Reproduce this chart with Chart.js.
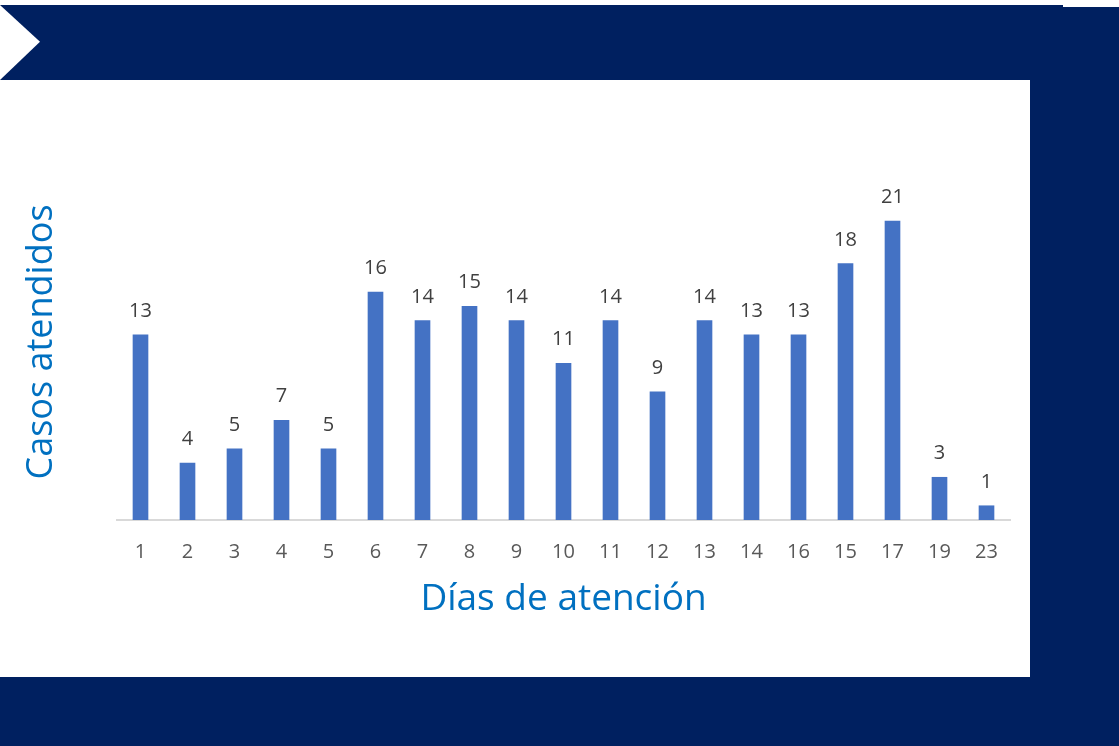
<!DOCTYPE html>
<html>
<head>
<meta charset="utf-8">
<script src="https://cdn.jsdelivr.net/npm/chart.js@4.4.0/dist/chart.umd.min.js"></script>
<style>
  html, body { margin: 0; padding: 0; width: 1119px; height: 746px; overflow: hidden; background: #ffffff; }
  #bg { position: absolute; left: 0; top: 0; width: 1119px; height: 746px; }
  .navy { position: absolute; background: #002060; }
  #panel { position: absolute; left: 0; top: 80px; width: 1030px; height: 597px; background: #ffffff; }
  #chev { position: absolute; left: 0; top: 5px; width: 40px; height: 75px; background: #ffffff;
          clip-path: polygon(0 0, 100% 49%, 0 100%); }
  #c { position: absolute; left: 0; top: 0; }
</style>
</head>
<body>
<div id="bg">
  <div class="navy" style="left:0;top:5px;width:1063px;height:741px;"></div>
  <div class="navy" style="left:1063px;top:7px;width:56px;height:739px;"></div>
  <div id="panel"></div>
  <div id="chev"></div>
</div>
<canvas id="c" width="1119" height="746"></canvas>
<script>
const categories = ["1","2","3","4","5","6","7","8","9","10","11","12","13","14","16","15","17","19","23"];
const casos = [13,4,5,7,5,16,14,15,14,11,14,9,14,13,13,18,21,3,1];
const xTitle = "Días de atención";
const yTitle = "Casos atendidos";

const valueLabels = {
  id: 'valueLabels',
  afterDatasetsDraw(chart) {
    const ctx = chart.ctx;
    const meta = chart.getDatasetMeta(0);
    ctx.save();
    ctx.font = '20px "Open Sans"';
    ctx.fillStyle = '#404040';
    ctx.textAlign = 'center';
    ctx.textBaseline = 'alphabetic';
    meta.data.forEach((bar, i) => {
      ctx.fillText(String(casos[i]), bar.x, bar.y - 18);
    });
    ctx.restore();
  }
};

new Chart(document.getElementById('c'), {
  type: 'bar',
  data: {
    labels: categories,
    datasets: [{
      data: casos,
      backgroundColor: '#4472C4',
      borderWidth: 0,
      barThickness: 15
    }]
  },
  options: {
    responsive: false,
    animation: false,
    layout: { padding: { left: 0, right: 109, top: 164, bottom: 124 } },
    plugins: { legend: { display: false }, tooltip: { enabled: false } },
    scales: {
      x: {
        grid: { display: false },
        border: { display: true, color: '#D9D9D9', width: 2 },
        ticks: { color: '#595959', font: { family: 'Open Sans', size: 20 }, padding: 12, maxRotation: 0, autoSkip: false },
        title: { display: true, text: xTitle, color: '#0070C0', font: { family: 'Open Sans', size: 37 }, padding: { top: 0, bottom: 0 } },
        afterFit(s) { s.height = 102; }
      },
      y: {
        min: 0, max: 25,
        grid: { display: false },
        border: { display: false },
        ticks: { display: false },
        title: { display: true, text: yTitle, color: '#0070C0', font: { family: 'Open Sans', size: 36 }, padding: { top: 20, bottom: 0 } },
        afterFit(s) { s.width = 117; }
      }
    }
  },
  plugins: [valueLabels]
});
</script>
</body>
</html>
